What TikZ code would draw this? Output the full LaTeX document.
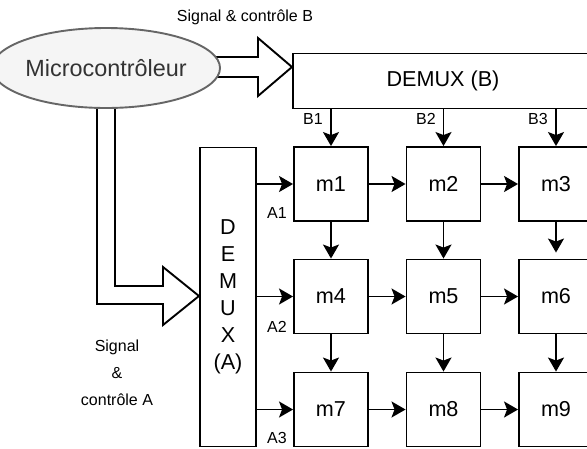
\documentclass[tikz,border=0pt]{standalone}
\usepackage{fontspec}
\setmainfont{Liberation Sans}
\usetikzlibrary{arrows.meta,shapes.geometric}
\begin{document}
\begin{tikzpicture}[x=1pt,y=-1pt,
  box/.style={draw,line width=1.9pt,minimum width=74pt,minimum height=74pt,inner sep=0pt,font=\fontsize{21.6}{27}\selectfont},
  lbl/.style={font=\fontsize{16}{27}\selectfont,inner sep=0pt,align=center},
  arr/.style={line width=1.9pt,-{Stealth[length=14pt,width=16pt,inset=3pt]}},
  fat/.style={draw,line width=1.9pt,fill=white,line join=miter}]
\useasboundingbox (0,0) rectangle (587,448);
% fat arrows (drawn under the ellipse)
\draw[fat] (106,57) -- (258,57) -- (258,38) -- (292,67) -- (258,96) -- (258,77) -- (106,77);
\draw[fat] (97,68) -- (97,304) -- (163,304) -- (163,325) -- (199,296) -- (163,267) -- (163,286) -- (115,286) -- (115,68);
% ellipse
\node[ellipse,draw=black!60,fill=black!4,line width=1.9pt,minimum width=186pt,minimum height=80pt,inner sep=0pt,text=black!80,font=\fontsize{23.4}{28}\selectfont] (mc) at (106,68) {Microcontrôleur};
% demux
\node[box,minimum width=300pt,minimum height=55pt] (demB) at (443,81) {DEMUX (B)};
\node[box,minimum width=56pt,minimum height=299pt,align=center] (demA) at (228,297) {D\\E\\M\\U\\X\\(A)};
% matrix
\node[box] (m1) at (331,184) {m1};
\node[box] (m2) at (443.5,184) {m2};
\node[box] (m3) at (556,184) {m3};
\node[box] (m4) at (331,296.5) {m4};
\node[box] (m5) at (443.5,296.5) {m5};
\node[box] (m6) at (556,296.5) {m6};
\node[box] (m7) at (331,409.5) {m7};
\node[box] (m8) at (443.5,409.5) {m8};
\node[box] (m9) at (556,409.5) {m9};
% connectors
\foreach \m in {m1,m2,m3} \draw[arr] (\m |- demB.south) -- (\m.north);
\foreach \m in {m1,m4,m7} \draw[arr] (demA.east |- \m) -- (\m.west);
\draw[arr] (m1) -- (m2); \draw[arr] (m2) -- (m3);
\draw[arr] (m4) -- (m5); \draw[arr] (m5) -- (m6);
\draw[arr] (m7) -- (m8); \draw[arr] (m8) -- (m9);
\draw[arr] (m1) -- (m4); \draw[arr] (m2) -- (m5); \draw[arr,shorten >=6pt] (m3) -- (m6);
\draw[arr] (m4) -- (m7); \draw[arr] (m5) -- (m8); \draw[arr] (m6) -- (m9);
% labels
\node[lbl] (lB) at (245,17) {Signal \& contrôle B};
\node[lbl] (lA) at (117,373) {Signal\\\&\\contrôle A};
\node[lbl] (b1) at (313,119) {B1};
\node[lbl] (b2) at (426,119) {B2};
\node[lbl] (b3) at (538,119) {B3};
\node[lbl] (a1) at (277,213) {A1};
\node[lbl] (a2) at (277,327) {A2};
\node[lbl] (a3) at (277,438) {A3};
\end{tikzpicture}
\end{document}
